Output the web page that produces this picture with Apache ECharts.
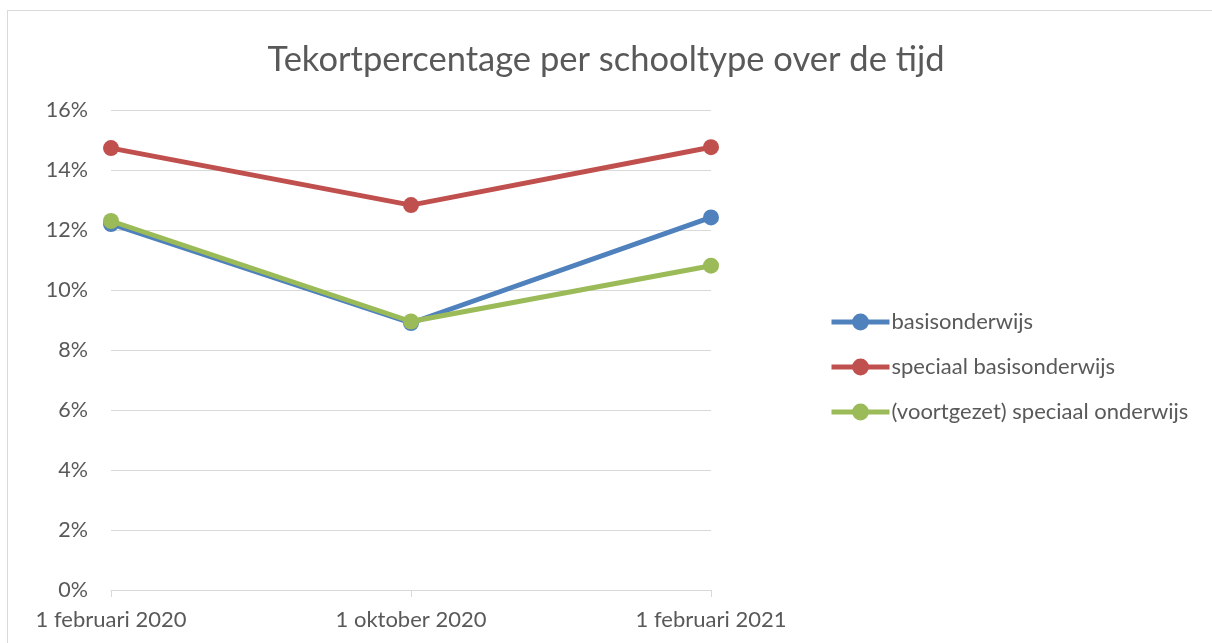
<!DOCTYPE html>
<html><head><meta charset="utf-8">
<script src="https://cdn.jsdelivr.net/npm/echarts@6/dist/echarts.min.js"></script>
<style>
html,body{margin:0;padding:0;background:#fff;}
#frame{position:absolute;left:7px;top:10px;width:1220px;height:700px;border:1px solid #d9d9d9;box-sizing:border-box;}
#chart{position:absolute;left:0;top:0;width:1212px;height:643px;}
</style></head>
<body>
<div id="frame"></div>
<div id="chart"></div>
<script>
const title = 'Tekortpercentage per schooltype over de tijd';
const categories = ['1 februari 2020', '1 oktober 2020', '1 februari 2021'];
const seriesNames = ['basisonderwijs', 'speciaal basisonderwijs', '(voortgezet) speciaal onderwijs'];
const basisonderwijs = [12.2, 8.9, 12.42];
const speciaalBasisonderwijs = [14.73, 12.83, 14.76];
const voortgezetSpeciaal = [12.3, 8.95, 10.81];
const colors = ['#4F81BD', '#C0504D', '#9BBB59'];
const FONT = 'Lato';
const TXT = '#595959';

const chart = echarts.init(document.getElementById('chart'));
const mk = (name, data, color, z) => ({
  name, type: 'line', data, z,
  symbol: 'circle', symbolSize: 16,
  lineStyle: { width: 5, color },
  itemStyle: { color },
  emphasis: { disabled: true }
});
chart.setOption({
  animation: false,
  title: { text: title, left: 'center', top: 37,
    textStyle: { fontFamily: FONT, fontSize: 34.5, fontWeight: 'normal', color: TXT } },
  legend: {
    orient: 'vertical', left: 824, top: 306, itemGap: 23,
    itemWidth: 58, itemHeight: 21,
    lineStyle: { width: 5 },
    textStyle: { fontFamily: FONT, fontSize: 22, color: TXT, padding: [0,0,0,-3] },
    data: seriesNames
  },
  grid: { left: 111, right: 501, top: 110, bottom: 53, containLabel: false },
  xAxis: {
    type: 'category', data: categories, boundaryGap: false,
    axisLine: { lineStyle: { color: '#d9d9d9', width: 1 } },
    axisTick: { show: true, length: 7, alignWithLabel: true, lineStyle: { color: '#d9d9d9' } },
    axisLabel: { fontFamily: FONT, fontSize: 22, color: TXT, margin: 19 },
    splitLine: { show: false }
  },
  yAxis: {
    type: 'value', min: 0, max: 16, interval: 2,
    axisLine: { show: false }, axisTick: { show: false },
    axisLabel: { fontFamily: FONT, fontSize: 21.5, color: TXT, margin: 23, formatter: '{value}%' },
    splitLine: { lineStyle: { color: '#d9d9d9', width: 1 } }
  },
  series: [
    mk(seriesNames[0], basisonderwijs, colors[0], 2),
    mk(seriesNames[1], speciaalBasisonderwijs, colors[1], 3),
    mk(seriesNames[2], voortgezetSpeciaal, colors[2], 4)
  ]
});
</script>
</body></html>
